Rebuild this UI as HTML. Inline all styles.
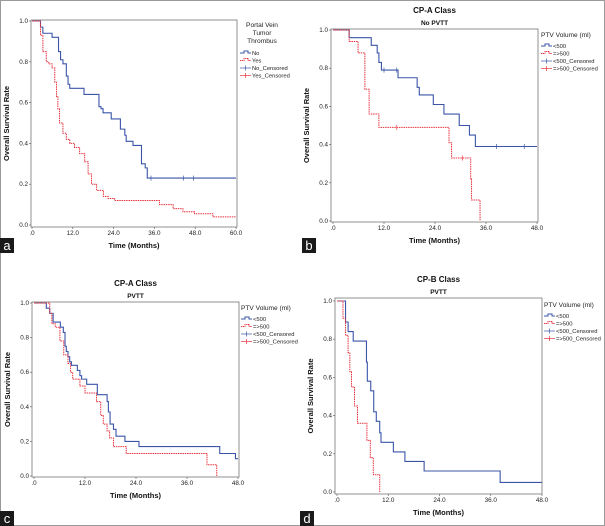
<!DOCTYPE html>
<html><head><meta charset="utf-8"><style>
html,body{margin:0;padding:0;background:#fff;}
svg{display:block;font-family:"Liberation Sans",sans-serif;}
.tk{font-size:6.3px;fill:#222;}
.at{font-size:7.5px;font-weight:bold;fill:#111;}
.tt{font-size:8px;font-weight:bold;fill:#111;}
.st{font-size:6.5px;font-weight:bold;fill:#111;}
.lg{font-size:5.8px;fill:#222;}
.lt{font-size:6.6px;fill:#222;}
</style></head><body>
<svg id="fig" width="605" height="526" viewBox="0 0 605 526">
<rect x="0.5" y="0.5" width="604" height="525" fill="#fff" stroke="#9a9a9a"/>
</svg>
<script>
// Panel a: Portal vein tumor thrombus
const aNoT=[2.5,3.2,5.9,7.8,8.4,9.1,10.1,10.6,11.1,15.3,19.7,20.3,20.9,23.3,26,27.3,27.7,29.7,32.2,33.3,33.9];
const aNoS=[0.97,0.94,0.92,0.85,0.81,0.79,0.73,0.69,0.67,0.64,0.58,0.57,0.55,0.52,0.47,0.44,0.41,0.39,0.30,0.28,0.23];
const aNoC=[35,44.5,47.5];
const aYesT=[2.5,3.2,4.2,4.9,5.9,6.7,7.2,7.6,8.1,9.1,10.1,11.1,12.5,14,15.5,16.5,17.5,19,21,22.4,24.3,37.5,41.5,44.4,47.8,53.2];
const aYesS=[0.93,0.85,0.80,0.79,0.77,0.70,0.63,0.57,0.50,0.45,0.42,0.40,0.38,0.35,0.31,0.25,0.20,0.17,0.14,0.13,0.12,0.10,0.08,0.065,0.055,0.04];
const aYesC=[];
const aXTicks=[".0","12.0","24.0","36.0","48.0","60.0"];
// Panel b: CP-A no PVTT
const bLoT=[3.8,9.0,10.4,10.8,11.4,15.3,19.8,20.3,23.6,26.1,29.7,32.1,33.5];
const bLoS=[0.96,0.92,0.88,0.83,0.79,0.75,0.70,0.66,0.61,0.56,0.50,0.45,0.39];
const bLoC=[12,15,38.5,45];
const bHiT=[3.8,5.9,7.5,8.5,10.8,27.3,27.9,32.4,32.6,34.6];
const bHiS=[0.94,0.88,0.69,0.56,0.49,0.41,0.33,0.22,0.11,0.0];
const bHiC=[15,30.5];
const bXTicks=[".0","12.0","24.0","36.0","48.0"];
// Panel c: CP-A PVTT
const cLoT=[2.9,3.7,4.5,6.2,6.9,7.3,7.6,8.0,8.4,8.8,10.2,10.8,11.2,12.4,14.9,17.2,17.5,17.9,18.7,19.3,21.4,24.7,43.7,47.4];
const cLoS=[0.97,0.94,0.89,0.86,0.83,0.75,0.72,0.69,0.66,0.64,0.61,0.58,0.56,0.53,0.47,0.43,0.37,0.30,0.27,0.23,0.20,0.17,0.13,0.10];
const cLoC=[];
const cHiT=[3.7,4.2,5.0,6.1,7.0,8.0,8.6,9.1,10.8,12.0,14.7,15.7,16.3,17.2,17.8,18.7,21.7,40.7,43.0];
const cHiS=[0.94,0.88,0.86,0.78,0.70,0.65,0.60,0.56,0.52,0.48,0.43,0.35,0.30,0.26,0.22,0.17,0.13,0.065,0.0];
const cHiC=[];
const cXTicks=[".0","12.0","24.0","36.0","48.0"];
// Panel d: CP-B PVTT
const dLoT=[2.0,2.6,3.8,6.9,7.1,7.9,8.6,9.2,10.0,10.3,13.2,15.9,20.4,38.2];
const dLoS=[0.89,0.84,0.79,0.68,0.58,0.53,0.42,0.37,0.31,0.26,0.21,0.16,0.11,0.05];
const dLoC=[];
const dHiT=[1.4,2.0,2.6,3.0,3.4,4.1,4.8,7.0,7.8,8.5,10.0];
const dHiS=[0.91,0.82,0.73,0.63,0.55,0.45,0.36,0.27,0.18,0.09,0.0];
const dHiC=[];
const dXTicks=[".0","12.0","24.0","36.0","48.0"];
const yTicks=["0.0","0.2","0.4","0.6","0.8","1.0"];

const NS="http://www.w3.org/2000/svg";
const svg=document.getElementById('fig');
function mk(tag,attrs,parent,txt){const e=document.createElementNS(NS,tag);for(const k in attrs)e.setAttribute(k,attrs[k]);if(txt!==undefined)e.textContent=txt;(parent||svg).appendChild(e);return e;}

function panel(p){
  const g=mk('g',{});
  
  
  const X=t=>p.x0+(t/p.xmax)*(p.x1-p.x0);
  const Y=s=>p.y0-(s)*(p.y0-p.y1);
  const box=mk('rect',{x:p.L,y:p.T,width:p.R-p.L,height:p.B-p.T,fill:'none',stroke:'#777','stroke-width':0.8},g);
  
  
  yTicks.forEach((lab,i)=>{const v=i*0.2;const yy=Y(v);
    mk('line',{x1:p.L-2,x2:p.L,y1:yy,y2:yy,stroke:'#555','stroke-width':0.6},g);
    const t=mk('text',{x:p.L-3,y:yy+2,'text-anchor':'end',class:'tk'},g,lab);
    
    
  });
  const step=p.xmax/(p.xt.length-1);
  p.xt.forEach((lab,i)=>{const xx=X(i*step);
    mk('line',{x1:xx,x2:xx,y1:p.B,y2:p.B+2,stroke:'#555','stroke-width':0.6},g);
    const t=mk('text',{x:xx,y:p.B+8,'text-anchor':'middle',class:'tk'},g,lab);
    
    
  });
  const xt=mk('text',{x:(p.L+p.R)/2,y:p.B+21,'text-anchor':'middle',class:'at'},g,'Time (Months)');
  
  
  const yx=p.L-22, yc=(p.T+p.B)/2;
  const yt=mk('text',{x:yx,y:yc,'text-anchor':'middle',class:'at',transform:`rotate(-90 ${yx} ${yc})`},g,'Overall Survival Rate');
  
  
  if(p.title){const t=mk('text',{x:(p.L+p.R)/2,y:p.T-16,'text-anchor':'middle',class:'tt'},g,p.title);
    
    
    const s=mk('text',{x:(p.L+p.R)/2,y:p.T-4,'text-anchor':'middle',class:'st'},g,p.sub);
    
    }
  p.series.forEach(se=>{
    let d=`M${X(0)},${Y(1)}`;let last=1;
    se.t.forEach((t,i)=>{d+=` H${X(t)} V${Y(se.s[i])}`;last=se.s[i];});
    if(last>0)d+=` H${X(se.end)}`;
    const path=mk('path',{d:d,fill:'none',stroke:se.c,'stroke-width':se.dash?1:1.1,'stroke-dasharray':se.dash?'1.5,0.8':'none'},g);
    
    
    se.cen.forEach(ct=>{let s=1;se.t.forEach((t,i)=>{if(t<=ct)s=se.s[i];});
      const m=mk('line',{x1:X(ct),x2:X(ct),y1:Y(s)-2.5,y2:Y(s)+2.5,stroke:se.c,'stroke-width':0.7},g);
      
      });
  });
  const lg=mk('g',{},g);
  
  
  p.lt.forEach((l,i)=>mk('text',{x:p.lx+(p.ltc?22:0),y:p.ly+i*8,'text-anchor':p.ltc?'middle':'start',class:'lt'},lg,l));
  const ey=p.ly+(p.lt.length-1)*8+p.lgap;
  p.le.forEach((e,i)=>{const yy=ey+i*7.5;
    const c=i%2?'#e8333f':'#3a55a8';
    if(i<2){mk('path',{d:`M${p.lx},${yy} h4 v-2 h4 v2 h3`,fill:'none',stroke:c,'stroke-width':1,'stroke-dasharray':i?'1.2,0.6':'none'},lg);}
    else{mk('line',{x1:p.lx,x2:p.lx+11,y1:yy,y2:yy,stroke:c,'stroke-width':0.7},lg);mk('line',{x1:p.lx+5.5,x2:p.lx+5.5,y1:yy-2.5,y2:yy+2.5,stroke:c,'stroke-width':0.7},lg);}
    const t=mk('text',{x:p.lx+12,y:yy+2,class:'lg'},lg,e);
    
    
  });
  const lb=mk('rect',{x:p.bx,y:p.by,width:14,height:15,fill:'#1a1a1a'},g);
  
  
  mk('text',{x:p.bx+7,y:p.by+12,'text-anchor':'middle',style:'font-size:13px;fill:#fff;font-family:"Liberation Sans",sans-serif'},g,p.id);
}
const volLeg=['<500','=>500','<500_Censored','=>500_Censored'];
panel({id:'a',L:31,R:237,T:20,B:227,x0:32,x1:236,y0:225,y1:21,xmax:60,xt:aXTicks,
  series:[{name:'no-pvtt',t:aNoT,s:aNoS,cen:aNoC,c:'#3a55a8',end:60},{name:'yes-pvtt',t:aYesT,s:aYesS,cen:aYesC,c:'#e8333f',dash:true,end:60}],
  lx:240,ly:27,lt:['Portal Vein','Tumor','Thrombus'],ltc:true,lgap:10,le:['No','Yes','No_Censored','Yes_Censored'],bx:0,by:238});
panel({id:'b',L:331,R:538,T:29,B:222,x0:333,x1:537,y0:221,y1:30,xmax:48,xt:bXTicks,title:'CP-A Class',sub:'No PVTT',
  series:[{name:'lt500',t:bLoT,s:bLoS,cen:bLoC,c:'#3a55a8',end:48},{name:'ge500',t:bHiT,s:bHiS,cen:bHiC,c:'#e8333f',dash:true,end:48}],
  lx:541,ly:37,lt:['PTV Volume (ml)'],lgap:9,le:volLeg,bx:302,by:238});
panel({id:'c',L:32,R:239,T:302,B:477,x0:34,x1:238,y0:476,y1:303,xmax:48,xt:cXTicks,title:'CP-A Class',sub:'PVTT',
  series:[{name:'lt500',t:cLoT,s:cLoS,cen:cLoC,c:'#3a55a8',end:48},{name:'ge500',t:cHiT,s:cHiS,cen:cHiC,c:'#e8333f',dash:true,end:48}],
  lx:241,ly:310,lt:['PTV Volume (ml)'],lgap:9,le:volLeg,bx:0,by:511});
panel({id:'d',L:335,R:542,T:298,B:494,x0:337,x1:542,y0:492,y1:301,xmax:48,xt:dXTicks,title:'CP-B Class',sub:'PVTT',
  series:[{name:'lt500',t:dLoT,s:dLoS,cen:dLoC,c:'#3a55a8',end:48},{name:'ge500',t:dHiT,s:dHiS,cen:dHiC,c:'#e8333f',dash:true,end:48}],
  lx:544,ly:307,lt:['PTV Volume (ml)'],lgap:9,le:volLeg,bx:300,by:511});
</script>
</body></html>
